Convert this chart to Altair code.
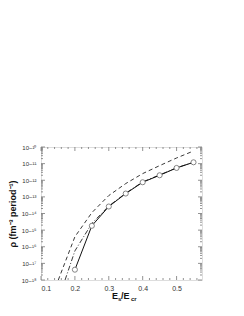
import altair as alt
import pandas as pd

# ---- data (log10 of rho) ----
x_sim = [0.20, 0.25, 0.30, 0.35, 0.40, 0.45, 0.50, 0.55]
logy_sim = [-17.38, -14.74, -13.58, -12.80, -12.12, -11.70, -11.26, -10.92]

x_dash = [0.151, 0.20, 0.25, 0.30, 0.35, 0.40, 0.45, 0.50, 0.55]
logy_dash = [-18.0, -15.40, -13.95, -12.92, -12.20, -11.60, -11.12, -10.66, -10.24]

x_dd = [0.171, 0.20, 0.25, 0.30, 0.35, 0.40, 0.45, 0.50, 0.55]
logy_dd = [-18.0, -16.25, -14.60, -13.55, -12.78, -12.10, -11.68, -11.25, -10.92]

x_major = [0.1, 0.2, 0.3, 0.4, 0.5]
x_minor = [0.12, 0.14, 0.16, 0.18, 0.22, 0.24, 0.26, 0.28, 0.32, 0.34, 0.36, 0.38,
           0.42, 0.44, 0.46, 0.48, 0.52, 0.54, 0.56]
y_exps = [-18, -17, -16, -15, -14, -13, -12, -11, -10]

W, H = 161, 133

sim = pd.DataFrame({"x": x_sim, "y": [10 ** v for v in logy_sim]})
dash = pd.DataFrame({"x": x_dash, "y": [10 ** v for v in logy_dash]})
dd = pd.DataFrame({"x": x_dd, "y": [10 ** v for v in logy_dd]})

xmaj = pd.DataFrame({"x": x_major})
xmin = pd.DataFrame({"x": x_minor})
ymaj = pd.DataFrame({"y": [10.0 ** e for e in y_exps]})
ymin = pd.DataFrame({"y": [m * 10.0 ** e for e in y_exps[:-1] for m in range(2, 10)]})

xs = alt.Scale(domain=[0.1, 0.575], nice=False, zero=False)
ys = alt.Scale(type="log", domain=[1e-18, 1e-10], nice=False)

sup = {"-": "⁻", "0": "⁰", "1": "¹", "2": "²", "3": "³", "4": "⁴",
       "5": "⁵", "6": "⁶", "7": "⁷", "8": "⁸", "9": "⁹"}
expr = "format(round(log(datum.value)/LN10),'d')"
for k, v in sup.items():
    expr = f"replace({expr}, regexp('{k}','g'), '{v}')"
label_expr = "'10' + " + expr

FONT = "Liberation Sans"
TICK = "#777777"

xaxis = alt.Axis(values=x_major, format=".1f", ticks=False, domain=False,
                 grid=False, labelFontSize=7, labelColor="#333",
                 labelPadding=4, title=None)
yaxis = alt.Axis(values=[10.0 ** e for e in y_exps], labelExpr=label_expr,
                 ticks=False, domain=False, grid=False, labelFontSize=6,
                 labelColor="#333", labelPadding=5,
                 title="ρ (fm⁻³ period⁻¹)", titleFontSize=9,
                 titleFontWeight="bold", titlePadding=4, titleColor="#111")

X = alt.X("x:Q", scale=xs, axis=xaxis)
Y = alt.Y("y:Q", scale=ys, axis=yaxis)

line_dash = alt.Chart(dash).mark_line(color="#222", strokeWidth=0.9,
                                       strokeDash=[4, 3]).encode(x=X, y=Y)
line_dd = alt.Chart(dd).mark_line(color="#222", strokeWidth=0.9,
                                   strokeDash=[5, 2, 1, 2]).encode(x=X, y=Y)
line_sim = alt.Chart(sim).mark_line(color="#111", strokeWidth=1).encode(x=X, y=Y)
pts = alt.Chart(sim).mark_point(shape="circle", filled=True, fill="white",
                                 stroke="#777", strokeWidth=0.9, size=26,
                                 opacity=1).encode(x=X, y=Y)

# inward tick marks on all four sides
def xticks(df, ln):
    bot = alt.Chart(df).mark_rule(color=TICK, strokeWidth=0.8).encode(
        x=X, y=alt.value(H), y2=alt.value(H - ln))
    top = alt.Chart(df).mark_rule(color=TICK, strokeWidth=0.8).encode(
        x=X, y=alt.value(0), y2=alt.value(ln))
    return [bot, top]

def yticks(df, ln):
    left = alt.Chart(df).mark_rule(color=TICK, strokeWidth=0.8).encode(
        y=Y, x=alt.value(0), x2=alt.value(ln))
    right = alt.Chart(df).mark_rule(color=TICK, strokeWidth=0.8).encode(
        y=Y, x=alt.value(W), x2=alt.value(W - ln))
    return [left, right]

ticks = xticks(xmaj, 4) + xticks(xmin, 2) + yticks(ymaj, 4) + yticks(ymin, 2)

# x title with subscripts
def ttext(txt, dx, dy, size):
    return alt.Chart(pd.DataFrame({"t": [txt]})).mark_text(
        font=FONT, fontWeight="bold", fontSize=size, align="left",
        baseline="alphabetic", color="#111").encode(
        text="t:N", x=alt.value(dx), y=alt.value(dy))

tx0 = 71
xtitle = [ttext("E", tx0, H + 19, 9), ttext("s", tx0 + 6, H + 21, 6),
          ttext("/E", tx0 + 9, H + 19, 9), ttext("cr", tx0 + 19, H + 21, 6)]

chart = alt.layer(*ticks, line_dash, line_dd, line_sim, pts, *xtitle).properties(
    width=W, height=H,
    autosize=alt.AutoSizeParams(type="none"),
    padding={"left": 33, "top": 139, "right": 34, "bottom": 28},
).configure_view(stroke="#888", strokeWidth=0.8).configure(font=FONT)

chart.save("out.html", embed_options={"renderer": "svg", "actions": False})
